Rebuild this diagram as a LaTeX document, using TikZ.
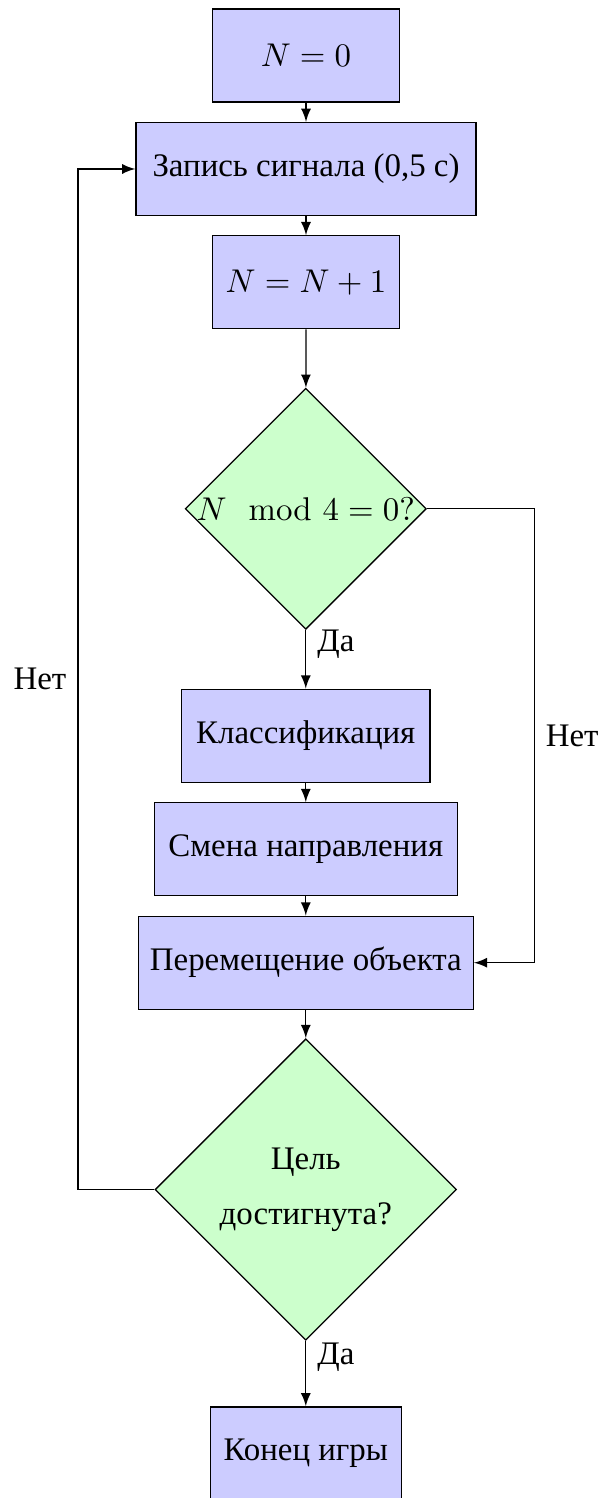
\documentclass[tikz,border=0pt]{standalone}
\usepackage{amsmath}
\usepackage[no-math]{fontspec}
\setmainfont{Liberation Serif}
\usetikzlibrary{shapes.geometric,arrows}
\newlength{\pxu}
\setlength{\pxu}{0.30395pt}
\tikzset{
  boxnode/.style={draw, thin, fill=blue!20, rectangle, inner sep=0pt, minimum height=93*\pxu},
  decnode/.style={draw, thin, fill=green!20, diamond, aspect=1, inner sep=0pt, align=center},
  flowline/.style={draw, thin, -latex},
}
\begin{document}
\begin{tikzpicture}[x=\pxu, y=-\pxu]
\useasboundingbox (0,0) rectangle (601,1498);
\node[boxnode, minimum width=187.4*\pxu] (n0) at (306,55.5) {$N = 0$};
\node[boxnode, minimum width=340*\pxu] (rec) at (306,169) {Запись сигнала (0,5 с)};
\node[boxnode, minimum width=187.4*\pxu] (inc) at (306,282.3) {$N = N + 1$};
\node[decnode, minimum width=239*\pxu, minimum height=239*\pxu] (d1) at (305.8,508.8) {$N \mod 4 = 0?$};
\node[boxnode, minimum width=248.3*\pxu] (cls) at (305.8,735.7) {Классификация};
\node[boxnode, minimum width=303*\pxu] (smn) at (305.8,849.3) {Смена направления};
\node[boxnode, minimum width=335*\pxu] (mov) at (305.8,962.7) {Перемещение объекта};
\node[decnode, minimum width=301.5*\pxu, minimum height=301.5*\pxu] (d2) at (305.8,1189.5) {Цель\\[4.7pt] достигнута?};
\node[boxnode, minimum width=191*\pxu] (fin) at (305.8,1453.4) {Конец игры};

\draw[flowline] (n0) -- (rec);
\draw[flowline] (rec) -- (inc);
\draw[flowline] (inc) -- (d1);
\draw[flowline] (d1) -- node[pos=0.25, right] {Да} (cls);
\draw[flowline] (cls) -- (smn);
\draw[flowline] (smn) -- (mov);
\draw[flowline] (mov) -- (d2);
\draw[flowline] (d2) -- node[pos=0.25, right] {Да} (fin);
\draw[flowline] (d2.west) -- ++(-76.5,0) coordinate (lc) |- node[pos=0.25, left] {Нет} (rec.west);
\draw[flowline] (d1.east) -- ++(107.2,0) coordinate (rc) |- node[pos=0.25, right] {Нет} (mov.east);
\end{tikzpicture}
\end{document}
